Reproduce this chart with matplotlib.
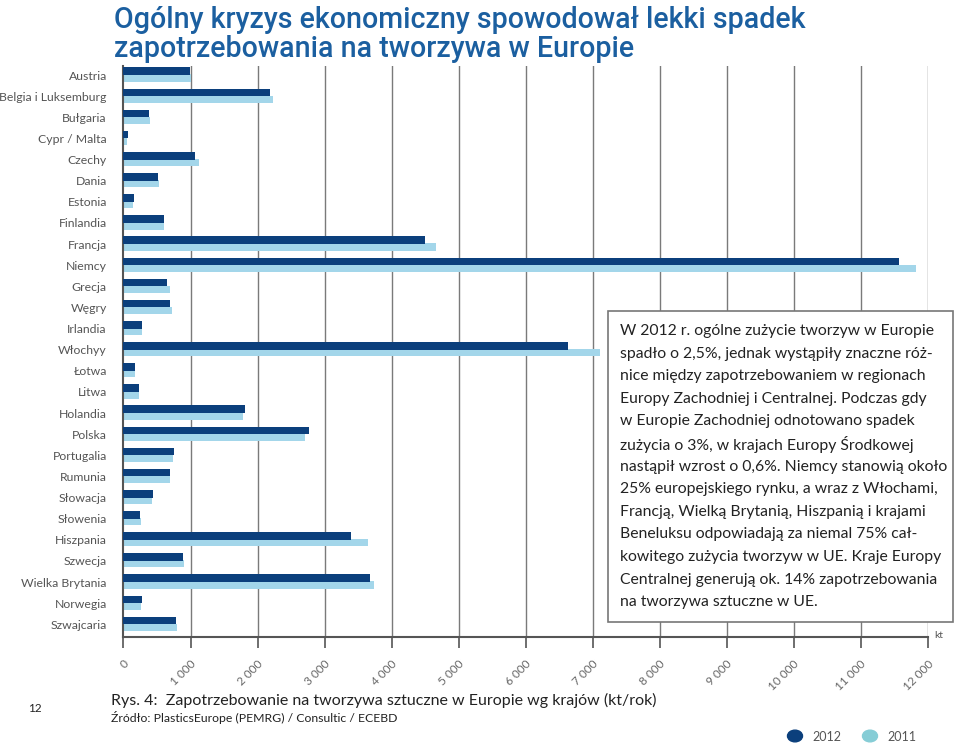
import matplotlib
matplotlib.use("Agg")
import matplotlib.pyplot as plt
from matplotlib.patches import Rectangle, Circle

countries = ["Austria", "Belgia i Luksemburg", "Bułgaria", "Cypr / Malta", "Czechy", "Dania",
             "Estonia", "Finlandia", "Francja", "Niemcy", "Grecja", "Węgry", "Irlandia",
             "Włochyy", "Łotwa", "Litwa", "Holandia", "Polska", "Portugalia", "Rumunia",
             "Słowacja", "Słowenia", "Hiszpania", "Szwecja", "Wielka Brytania", "Norwegia",
             "Szwajcaria"]
v2012 = [990, 2180, 380, 60, 1070, 520, 150, 600, 4500, 11570, 645, 700, 275, 6630,
         175, 230, 1820, 2770, 760, 700, 440, 245, 3390, 890, 3685, 275, 785]
v2011 = [1000, 2230, 395, 55, 1120, 530, 135, 610, 4660, 11835, 695, 720, 280, 7110,
         170, 230, 1780, 2710, 745, 695, 420, 255, 3645, 900, 3740, 255, 795]
xticks = list(range(0, 13000, 1000))
xlabels = ["0", "1 000", "2 000", "3 000", "4 000", "5 000", "6 000", "7 000", "8 000",
           "9 000", "10 000", "11 000", "12 000"]
legend_labels = ["2012", "2011"]

DARK = "#0b3f7c"
LIGHT = "#a3d6ea"
LEG_LIGHT = "#86cdd6"
TITLE = "#1b5fa0"
GRAY = "#555555"

plt.rcParams["font.family"] = ["Lato", "DejaVu Sans"]

W, H = 960, 748
fig = plt.figure(figsize=(W / 100, H / 100), dpi=100)

def fx(px):
    return px / W

def fy(py):
    return 1 - py / H

ax = fig.add_axes([fx(123.5), fy(637), fx(927.5) - fx(123.5), fy(66) - fy(637)])
ax.set_xlim(0, 12000)
n = len(countries)
ax.set_ylim(26.6, -0.43)

ys = list(range(n))
ax.barh([y + 0.14 for y in ys], v2011, height=0.34, color=LIGHT, zorder=2)
ax.barh([y - 0.18 for y in ys], v2012, height=0.36, color=DARK, zorder=3)

for x in xticks[1:]:
    ax.axvline(x, color="#7a7a7a", lw=1.0, zorder=1)

ax.set_yticks(ys)
ax.set_yticklabels(countries, fontsize=8.8, color=GRAY)
ax.tick_params(axis="y", length=0, pad=12)

ax.set_xticks(xticks)
ax.set_xticklabels(xlabels, rotation=45, ha="right", va="top", rotation_mode="anchor",
                   fontsize=8.5, color="#666666")
ax.tick_params(axis="x", length=8, width=1.2, color=GRAY, pad=7)

for s in ["top", "right"]:
    ax.spines[s].set_visible(False)
ax.spines["left"].set_color(GRAY)
ax.spines["left"].set_linewidth(1.5)
ax.spines["bottom"].set_color(GRAY)
ax.spines["bottom"].set_linewidth(1.5)

# kt unit
fig.text(fx(934), fy(636), "kt", fontsize=7.5, color=GRAY, ha="left", va="center")

# Title
fig.text(fx(114), fy(20), "Ogólny kryzys ekonomiczny spowodował lekki spadek", fontsize=20.6,
         color=TITLE, fontweight="medium", ha="left", va="center", family=["Roboto", "DejaVu Sans"])
fig.text(fx(114), fy(49), "zapotrzebowania na tworzywa w Europie", fontsize=20.6,
         color=TITLE, fontweight="medium", ha="left", va="center", family=["Roboto", "DejaVu Sans"])

# Text box
box = Rectangle((fx(608), fy(622)), fx(953) - fx(608), fy(311) - fy(622),
                transform=fig.transFigure, facecolor="white", edgecolor="#777777", lw=1.2, zorder=5)
fig.patches.append(box)
lines = [
    "W 2012 r. ogólne zużycie tworzyw w Europie",
    "spadło o 2,5%, jednak wystąpiły znaczne róż-",
    "nice między zapotrzebowaniem w regionach",
    "Europy Zachodniej i Centralnej. Podczas gdy",
    "w Europie Zachodniej odnotowano spadek",
    "zużycia o 3%, w krajach Europy Środkowej",
    "nastąpił wzrost o 0,6%. Niemcy stanowią około",
    "25% europejskiego rynku, a wraz z Włochami,",
    "Francją, Wielką Brytanią, Hiszpanią i krajami",
    "Beneluksu odpowiadają za niemal 75% cał-",
    "kowitego zużycia tworzyw w UE. Kraje Europy",
    "Centralnej generują ok. 14% zapotrzebowania",
    "na tworzywa sztuczne w UE.",
]
for i, t in enumerate(lines):
    fig.text(fx(620), fy(331 + i * 22.6), t, fontsize=11.3, color="#222222",
             ha="left", va="center", zorder=6)

# Caption
fig.text(fx(111), fy(700), "Rys. 4:  Zapotrzebowanie na tworzywa sztuczne w Europie wg krajów (kt/rok)",
         fontsize=11.5, color="#222222", ha="left", va="center")
fig.text(fx(111), fy(717), "Źródło: PlasticsEurope (PEMRG) / Consultic / ECEBD",
         fontsize=8.8, color="#222222", ha="left", va="center")
fig.text(fx(35), fy(709), "12", fontsize=8.5, color="#222222", ha="center", va="center")

# Legend
for cx, col in [(795, DARK), (870, LEG_LIGHT)]:
    c = Circle((fx(cx), fy(736)), 7.5 / W, transform=fig.transFigure, color=col)
    fig.patches.append(c)

fig.text(fx(812), fy(737), legend_labels[0], fontsize=9, color=GRAY, ha="left", va="center")
fig.text(fx(887), fy(737), legend_labels[1], fontsize=9, color=GRAY, ha="left", va="center")

fig.savefig("out.png", dpi=100)
